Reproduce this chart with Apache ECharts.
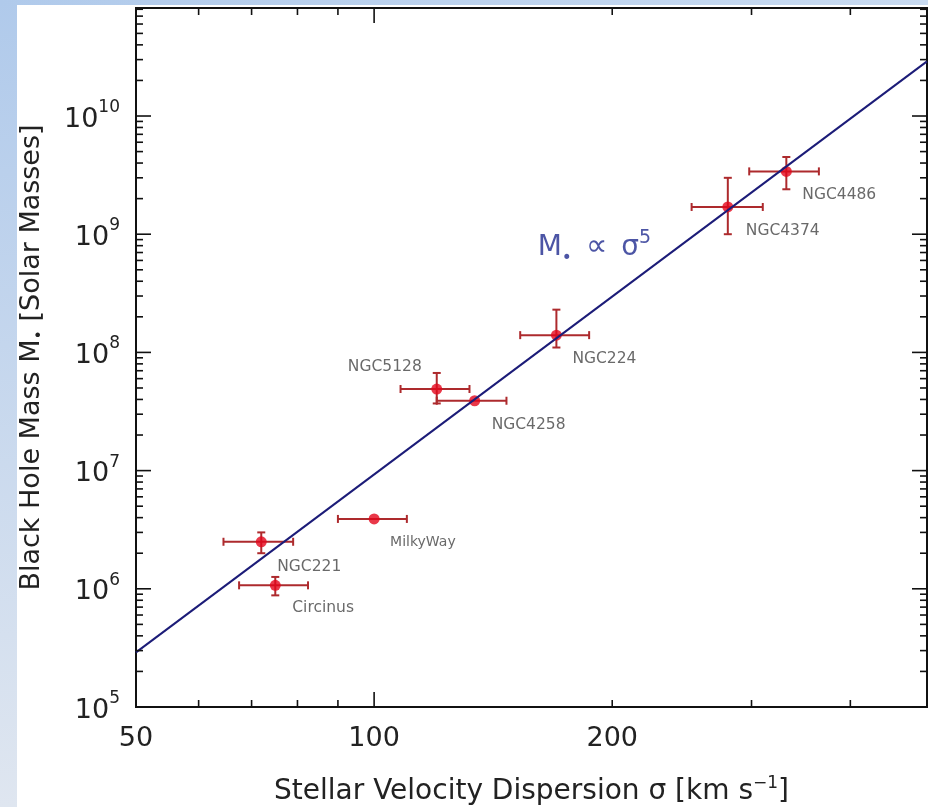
<!DOCTYPE html>
<html>
<head>
<meta charset="utf-8">
<script src="https://cdn.jsdelivr.net/npm/echarts@6/dist/echarts.min.js"></script>
<style>
html, body { margin: 0; padding: 0; }
body { width: 928px; height: 807px; position: relative; background: #fff; overflow: hidden; }
#sideBar { position: absolute; left: 0; top: 0; width: 17px; height: 807px; background: linear-gradient(#b0caeb, #dfe6f0); }
#topBar { position: absolute; left: 0; top: 0; width: 928px; height: 5px; background: linear-gradient(90deg, #b0caeb, #c9dbf1); }
#main { position: absolute; left: 0; top: 0; width: 928px; height: 807px; }
</style>
</head>
<body>
<div id="sideBar"></div>
<div id="topBar"></div>
<div id="main"></div>
<script>
// galaxies: velocity dispersion (km/s) and black hole mass (solar masses)
var names = ['NGC4486', 'NGC4374', 'NGC224', 'NGC5128', 'NGC4258', 'MilkyWay', 'NGC221', 'Circinus'];
var sigma = [332, 280, 170, 120, 134, 100, 72, 75];
var mass = [3.4e9, 1.7e9, 1.4e8, 4.9e7, 3.9e7, 3.9e6, 2.5e6, 1.07e6];
var sigmaLo = [298, 252, 153, 108, 120, 90, 64.5, 67.5];
var sigmaHi = [365, 310, 187, 132, 147, 110, 79, 82.5];
var massLo = [2.4e9, 1.0e9, 1.1e8, 3.7e7, null, null, 2.0e6, 0.88e6];
var massHi = [4.5e9, 3.0e9, 2.3e8, 6.7e7, null, null, 3.0e6, 1.26e6];

// M ~ sigma^5 relation
var fitSigma = [50, 500];
var fitMass = [2.9e5, 2.9e10];

// axes
var xMin = 50, xMax = 500;
var yMin = 1e5, yMax = 8.2e10;
var xLabelValues = [50, 100, 200];
var xMajorTicks = [100];
var xMinorTicks = [60, 70, 80, 90, 200, 300, 400];
var yLabelValues = [1e5, 1e6, 1e7, 1e8, 1e9, 1e10];
var yMinorTicks = [];
for (var e = 5; e <= 10; e++) {
    for (var k = 2; k <= 9; k++) {
        if (k * Math.pow(10, e) < yMax) yMinorTicks.push(k * Math.pow(10, e));
    }
}

// label placement next to each point (pixels)
var labelOffsets = {
    'NGC4486': [16, 24], 'NGC4374': [18, 24], 'NGC224': [16, 24], 'NGC5128': [-15, -22],
    'NGC4258': [17, 24], 'MilkyWay': [16, 23], 'NGC221': [16, 25], 'Circinus': [17, 23]
};

var myChart = echarts.init(document.getElementById('main'), null, { renderer: 'canvas' });

var font = 'DejaVu Sans';

function tickSeries(values, isX, len) {
    return {
        type: 'custom',
        coordinateSystem: 'cartesian2d',
        silent: true,
        clip: false,
        z: 5,
        data: values.map(function (v) { return isX ? [v, yMin] : [xMin, v]; }),
        renderItem: function (params, api) {
            var cs = params.coordSys;
            var p = api.coord([api.value(0), api.value(1)]);
            var st = { stroke: '#111', lineWidth: 1.6 };
            if (isX) {
                return { type: 'group', children: [
                    { type: 'line', shape: { x1: p[0], y1: cs.y + cs.height, x2: p[0], y2: cs.y + cs.height - len }, style: st },
                    { type: 'line', shape: { x1: p[0], y1: cs.y, x2: p[0], y2: cs.y + len }, style: st }
                ] };
            }
            return { type: 'group', children: [
                { type: 'line', shape: { x1: cs.x, y1: p[1], x2: cs.x + len, y2: p[1] }, style: st },
                { type: 'line', shape: { x1: cs.x + cs.width, y1: p[1], x2: cs.x + cs.width - len, y2: p[1] }, style: st }
            ] };
        }
    };
}

var errData = [];
var pointData = [];
for (var i = 0; i < names.length; i++) {
    errData.push([sigma[i], mass[i], sigmaLo[i], sigmaHi[i],
        massLo[i] == null ? '-' : massLo[i], massHi[i] == null ? '-' : massHi[i]]);
    var off = labelOffsets[names[i]];
    pointData.push({
        name: names[i],
        value: [sigma[i], mass[i]],
        label: { offset: off, align: off[0] < 0 ? 'right' : 'left', fontSize: names[i] === 'MilkyWay' ? 14 : 15.5 }
    });
}

var option = {
    animation: false,
    grid: {
        left: 136, top: 8, right: 1, bottom: 100, outerBoundsMode: 'none', containLabel: false,
        show: true, borderColor: '#111', borderWidth: 2, backgroundColor: 'transparent'
    },
    xAxis: {
        type: 'log', logBase: 10, min: xMin, max: xMax,
        name: 'Stellar Velocity Dispersion σ [km s{sup|−1}]',
        nameLocation: 'middle', nameGap: 68,
        nameTextStyle: { fontFamily: font, fontSize: 28, color: '#222',
            rich: { sup: { fontFamily: font, fontSize: 17, verticalAlign: 'top', lineHeight: 34, color: '#222' } } },
        axisLine: { show: false },
        axisTick: { show: false },
        splitLine: { show: false },
        axisLabel: { customValues: xLabelValues, margin: 18, fontFamily: font, fontSize: 27, color: '#222' }
    },
    yAxis: {
        type: 'log', logBase: 10, min: yMin, max: yMax,
        name: 'Black Hole Mass M{d|•} [Solar Masses]',
        nameLocation: 'middle', nameGap: 88, nameRotate: 90,
        nameTextStyle: { fontFamily: font, fontSize: 27, color: '#222',
            rich: { d: { fontFamily: font, fontSize: 16, verticalAlign: 'bottom', lineHeight: 32, color: '#222' } } },
        axisLine: { show: false },
        axisTick: { show: false },
        splitLine: { show: false },
        axisLabel: {
            customValues: yLabelValues, margin: 16,
            formatter: function (v) {
                return '{b|10}{s|' + Math.round(Math.log10(v)) + '}';
            },
            rich: {
                b: { fontFamily: font, fontSize: 27, color: '#222', lineHeight: 34, verticalAlign: 'bottom' },
                s: { fontFamily: font, fontSize: 17, color: '#222', lineHeight: 34, verticalAlign: 'top' }
            }
        }
    },
    series: [
        tickSeries(xMajorTicks, true, 15),
        tickSeries(xMinorTicks, true, 7),
        tickSeries(yLabelValues, false, 15),
        tickSeries(yMinorTicks, false, 7),
        {
            type: 'custom',
            name: 'errors',
            coordinateSystem: 'cartesian2d',
            silent: true,
            z: 2,
            data: errData,
            renderItem: function (params, api) {
                var c = api.coord([api.value(0), api.value(1)]);
                var l = api.coord([api.value(2), api.value(1)]);
                var r = api.coord([api.value(3), api.value(1)]);
                var st = { stroke: '#ad2a2d', lineWidth: 2 };
                var cap = 4;
                var kids = [
                    { type: 'line', shape: { x1: l[0], y1: c[1], x2: r[0], y2: c[1] }, style: st },
                    { type: 'line', shape: { x1: l[0], y1: c[1] - cap, x2: l[0], y2: c[1] + cap }, style: st },
                    { type: 'line', shape: { x1: r[0], y1: c[1] - cap, x2: r[0], y2: c[1] + cap }, style: st }
                ];
                var lo = api.value(4), hi = api.value(5);
                if (!isNaN(lo) && !isNaN(hi)) {
                    var b = api.coord([api.value(0), lo]);
                    var t = api.coord([api.value(0), hi]);
                    kids.push(
                        { type: 'line', shape: { x1: c[0], y1: b[1], x2: c[0], y2: t[1] }, style: st },
                        { type: 'line', shape: { x1: c[0] - cap, y1: b[1], x2: c[0] + cap, y2: b[1] }, style: st },
                        { type: 'line', shape: { x1: c[0] - cap, y1: t[1], x2: c[0] + cap, y2: t[1] }, style: st }
                    );
                }
                return { type: 'group', children: kids };
            }
        },
        {
            type: 'scatter',
            name: 'galaxies',
            symbol: 'circle',
            symbolSize: 11,
            z: 3,
            itemStyle: { color: '#e4061c' },
            label: {
                show: true, position: 'inside', formatter: '{b}',
                fontFamily: font, color: '#444', verticalAlign: 'middle'
            },
            data: pointData
        },
        {
            type: 'line',
            name: 'fit',
            z: 4,
            symbol: 'none',
            lineStyle: { color: '#1c1c78', width: 2 },
            data: fitSigma.map(function (s, j) { return [s, fitMass[j]]; })
        },
        {
            type: 'scatter',
            name: 'relation',
            symbolSize: 0,
            silent: true,
            z: 6,
            data: [[161, 7.7e8]],
            label: {
                show: true, position: 'inside', align: 'left', verticalAlign: 'middle',
                formatter: '{m|M}{d|•}{p|∝}{m|σ}{s|5}',
                rich: {
                    m: { fontFamily: font, fontSize: 28, color: '#1f2a8f', lineHeight: 38, verticalAlign: 'middle' },
                    d: { fontFamily: font, fontSize: 17, color: '#1f2a8f', lineHeight: 38, verticalAlign: 'bottom' },
                    p: { fontFamily: font, fontSize: 30, color: '#1f2a8f', lineHeight: 38, verticalAlign: 'middle', padding: [0, 14, 0, 14] },
                    s: { fontFamily: font, fontSize: 19, color: '#1f2a8f', lineHeight: 38, verticalAlign: 'top' }
                }
            }
        }
    ]
};
myChart.setOption(option);
</script>
</body>
</html>
